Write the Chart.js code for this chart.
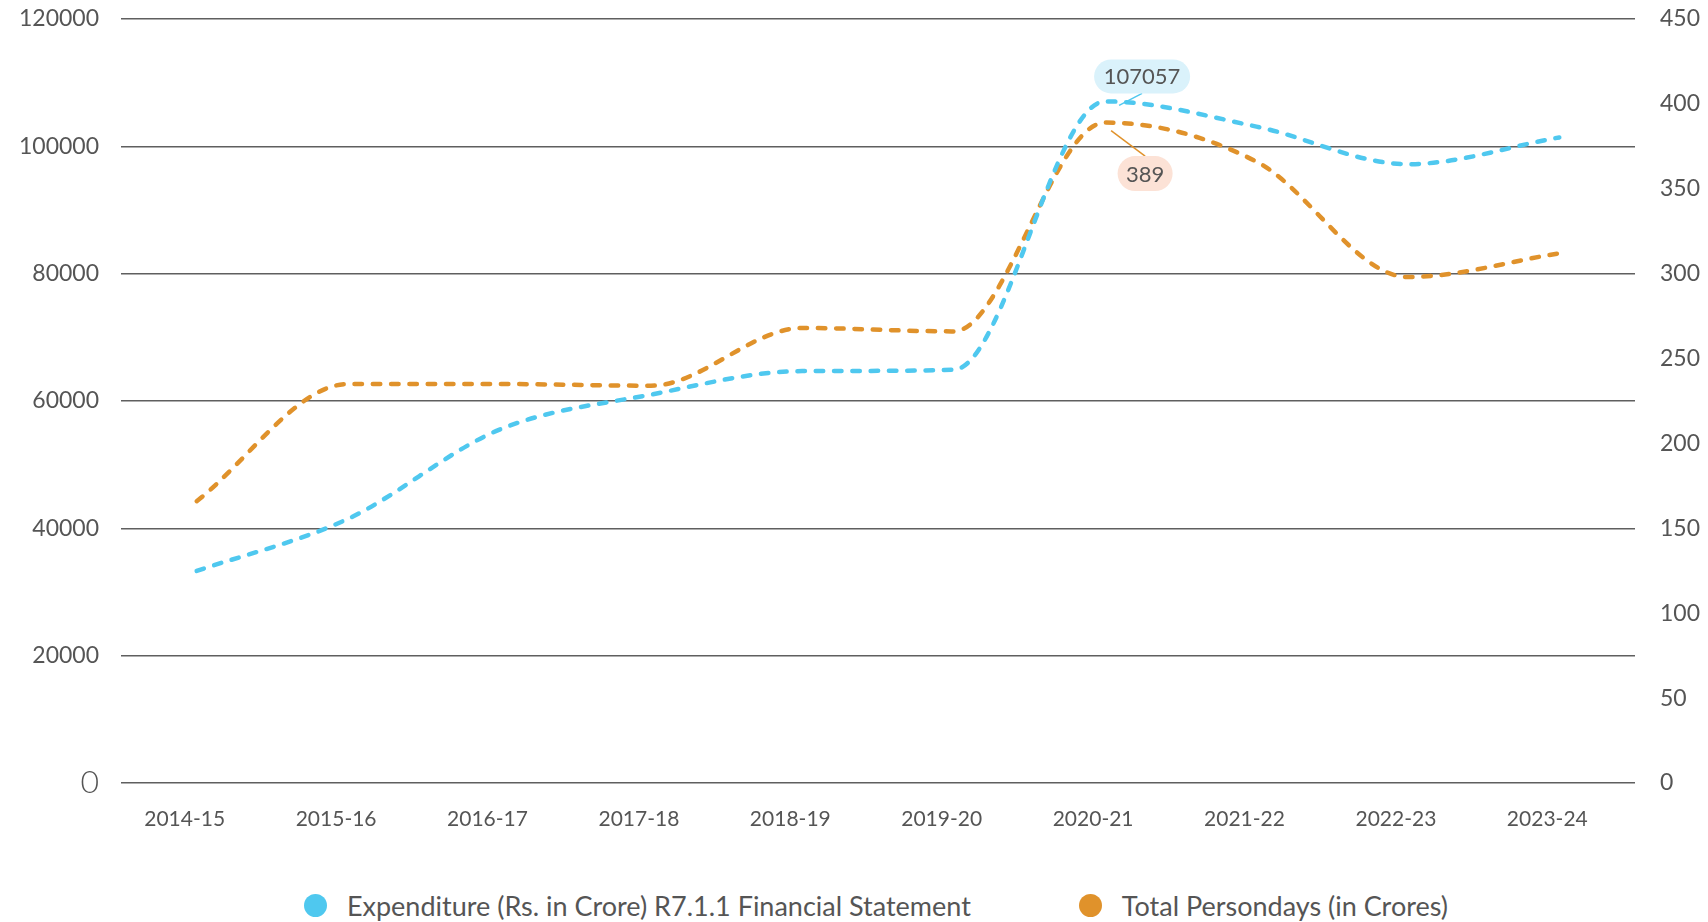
<!DOCTYPE html>
<html>
<head>
<meta charset="utf-8">
<script src="https://cdn.jsdelivr.net/npm/chart.js@4.4.1/dist/chart.umd.min.js"></script>
<style>
  html, body { margin: 0; padding: 0; background: #ffffff; }
  #wrap { position: relative; width: 1708px; height: 922px; }
  #box { position: absolute; left: 0; top: 0; width: 1708px; height: 866px; }
  #legend { position: absolute; left: 0; top: 886px; width: 1708px; height: 38px;
    display: flex; justify-content: center; align-items: center; padding-left: 44px; box-sizing: border-box;
    font-family: Lato, "Noto Sans", sans-serif; font-size: 27px; color: #555555; }
  .item { display: flex; align-items: center; }
  .item + .item { margin-left: 108px; }
  .dot { width: 23px; height: 23px; border-radius: 50%; margin-right: 20px; }
</style>
</head>
<body>
<div id="wrap">
  <div id="box"><canvas id="c"></canvas></div>
  <div id="legend"></div>
</div>
<script>
const categories = ['2014-15','2015-16','2016-17','2017-18','2018-19','2019-20','2020-21','2021-22','2022-23','2023-24'];
const expenditure = [33300, 41500, 55500, 61000, 64700, 64900, 107057, 103100, 97200, 101400];
const persondays = [166, 235, 235, 234, 268, 266, 389, 366, 298, 312];
const seriesNames = ['Expenditure (Rs. in Crore) R7.1.1 Financial Statement', 'Total Persondays (in Crores)'];
const leftTicks = [0, 20000, 40000, 60000, 80000, 100000, 120000];
const rightTicks = [0, 50, 100, 150, 200, 250, 300, 350, 400, 450];
const peakIndex = 6;

const BLUE = '#4FC8EF';
const ORANGE = '#E0922B';
const TEXT = '#555555';
const FONT = 'Lato, "Noto Sans", sans-serif';

const calloutPlugin = {
  id: 'callouts',
  afterDatasetsDraw(chart) {
    const ctx = chart.ctx;
    const specs = [
      {ds: 0, text: String(expenditure[peakIndex]), dx: 37, dy: -25, w: 96, h: 34, bg: '#DAF2FB', col: BLUE, lx: 14, ly: 4},
      {ds: 1, text: String(persondays[peakIndex]), dx: 40, dy: 51, w: 55, h: 35, bg: '#FCE2D6', col: ORANGE, lx: 6, ly: 8}
    ];
    specs.forEach(s => {
      const pt = chart.getDatasetMeta(s.ds).data[peakIndex];
      const cx = pt.x + s.dx, cy = pt.y + s.dy;
      ctx.save();
      ctx.strokeStyle = s.col;
      ctx.lineWidth = 1.5;
      ctx.beginPath();
      const ey = s.dy < 0 ? cy + s.h / 2 : cy - s.h / 2;
      ctx.moveTo(cx, ey);
      ctx.lineTo(pt.x + s.lx, pt.y + s.ly);
      ctx.stroke();
      ctx.fillStyle = s.bg;
      ctx.beginPath();
      ctx.roundRect(cx - s.w / 2, cy - s.h / 2, s.w, s.h, s.h / 2);
      ctx.fill();
      ctx.fillStyle = TEXT;
      ctx.font = '22px ' + FONT;
      ctx.textAlign = 'center';
      ctx.textBaseline = 'middle';
      ctx.fillText(s.text, cx, cy + 1);
      ctx.restore();
    });
  }
};

const lineCommon = {
  borderWidth: 4.5,
  borderDash: [7.5, 10.8],
  borderCapStyle: 'round',
  pointRadius: 0,
  pointHoverRadius: 0,
  cubicInterpolationMode: 'monotone',
  fill: false
};

function fixY(width) {
  return function (s) {
    s.width = width;
    s.paddingTop = 19;
    s.paddingBottom = 0;
  };
}

new Chart(document.getElementById('c'), {
  type: 'line',
  data: {
    labels: categories,
    datasets: [
      Object.assign({label: seriesNames[0], data: expenditure, borderColor: BLUE, backgroundColor: BLUE, yAxisID: 'y'}, lineCommon),
      Object.assign({label: seriesNames[1], data: persondays, borderColor: ORANGE, backgroundColor: ORANGE, yAxisID: 'y1'}, lineCommon)
    ]
  },
  options: {
    responsive: true,
    maintainAspectRatio: false,
    animation: false,
    layout: {padding: 0},
    plugins: {legend: {display: false}, tooltip: {enabled: false}},
    scales: {
      x: {
        offset: true,
        grid: {display: false, drawTicks: false},
        border: {display: false},
        ticks: {color: TEXT, font: {family: FONT, size: 21}, padding: 24, labelOffset: -12, maxRotation: 0, autoSkip: false},
        afterFit(s) { s.height = 866 - 783; s.paddingLeft = 0; s.paddingRight = 0; }
      },
      y: {
        position: 'left',
        min: 0, max: 120000,
        afterBuildTicks(s) { s.ticks = leftTicks.map(v => ({value: v})); },
        grid: {color: '#5f5f5f', lineWidth: 1.5, drawTicks: false},
        border: {display: false},
        ticks: {
          color: TEXT,
          padding: 22,
          callback: (v) => String(v),
          font: (c) => (c.tick && c.tick.value === 0) ? {family: FONT, size: 32, weight: '300'} : {family: FONT, size: 23}
        },
        afterFit: fixY(121)
      },
      y1: {
        position: 'right',
        min: 0, max: 450,
        afterBuildTicks(s) { s.ticks = rightTicks.map(v => ({value: v})); },
        grid: {display: false, drawTicks: false},
        border: {display: false},
        ticks: {color: TEXT, padding: 25, callback: (v) => String(v), font: {family: FONT, size: 23}},
        afterFit: fixY(1708 - 1635)
      }
    }
  },
  plugins: [calloutPlugin]
});

const legendEl = document.getElementById('legend');
[BLUE, ORANGE].forEach((col, i) => {
  const it = document.createElement('div');
  it.className = 'item';
  const d = document.createElement('span');
  d.className = 'dot';
  d.style.background = col;
  const t = document.createElement('span');
  t.textContent = seriesNames[i];
  it.appendChild(d); it.appendChild(t);
  legendEl.appendChild(it);
});
</script>
</body>
</html>
